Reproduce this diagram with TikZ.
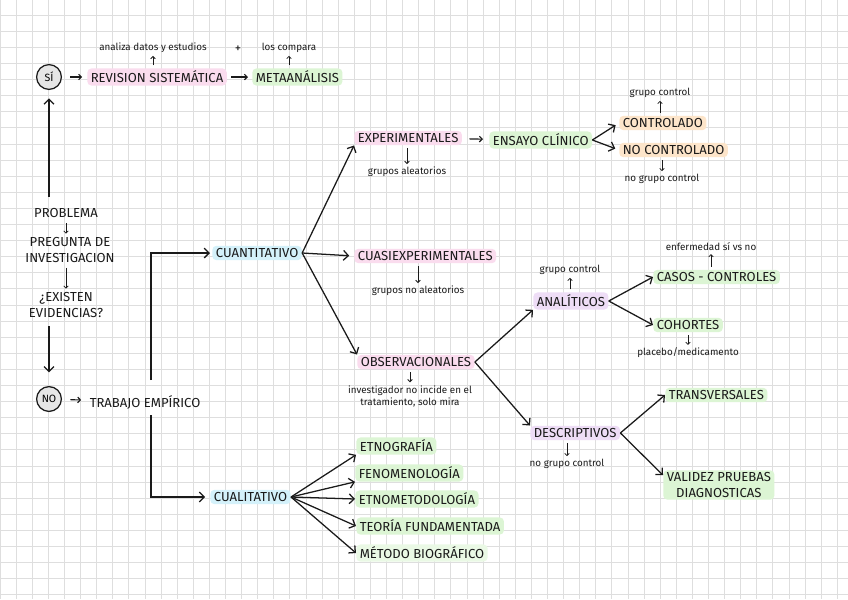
\documentclass[tikz,border=0pt]{standalone}
\usepackage{fontspec}
\setmainfont{Fira Sans}
\usetikzlibrary{arrows.meta,positioning}
\definecolor{ink}{HTML}{1A1A1A}
\definecolor{gridgray}{HTML}{DEDEDE}
\definecolor{hlpink}{HTML}{FADCEE}
\definecolor{hlgreen}{HTML}{DCF5D4}
\definecolor{hlblue}{HTML}{D4F1FA}
\definecolor{hlorange}{HTML}{FDE5CA}
\definecolor{hlpurple}{HTML}{EEDDF6}
\definecolor{disk}{HTML}{E6E6E6}
\tikzset{capslabel/.style={font=\fontsize{9.3}{10.7}\selectfont,text=ink,inner xsep=2.5pt,inner ysep=1.8pt,rounded corners=3pt,align=center},notelabel/.style={font=\fontsize{7}{8.5}\selectfont,text=ink,inner sep=1pt,align=center},answerdisk/.style={circle,draw=ink,fill=disk,line width=.9pt,minimum size=.62cm,inner sep=0pt,font=\fontsize{7.5}{8}\selectfont},bigarrow/.style={draw=ink,line width=.9pt,-{Straight Barb[length=3.5pt,width=7pt]}},shortarrow/.style={draw=ink,line width=.8pt,-{Straight Barb[length=2pt,width=4pt]}},tinyarrow/.style={draw=ink,line width=.55pt,-{Straight Barb[length=1.6pt,width=3.2pt]},shorten <=2pt,shorten >=1pt},gridline/.style={draw=gridgray,line width=.45pt}}

\begin{document}
\begin{tikzpicture}[x=.025cm,y=-.025cm]
\fill[white] (0,0) rectangle (848,599);
\useasboundingbox (0,0) rectangle (848,599);
\foreach \i in {0,...,52} \draw[gridline] (\i*16.1,0) -- (\i*16.1,599);
\foreach \j in {1,...,37} \draw[gridline] (0,\j*16.1-1) -- (848,\j*16.1-1);
% top row
\node[answerdisk] (si) at (49,77) {SÍ};
\node[capslabel,fill=hlpink,anchor=west] (revision) at (87,77) {REVISION SISTEMÁTICA};
\node[capslabel,fill=hlgreen,anchor=west] (meta) at (252,77) {METAANÁLISIS};
\node[notelabel] (analiza) at (153,48) {analiza datos y estudios};
\node[notelabel,font=\fontsize{9}{9}\selectfont] (plus) at (238,49) {+};
\node[notelabel] (compara) at (289,48) {los compara};
\draw[shortarrow,shorten <=.21cm,shorten >=.12cm] (si) -- (revision);
\draw[shortarrow,shorten <=.1cm,shorten >=.1cm] (revision) -- (meta);
\draw[tinyarrow] (analiza |- revision.north) -- (analiza.south);
\draw[tinyarrow] (compara |- meta.north) -- (compara.south);
% left column
\node[capslabel] (problema) at (66,213) {PROBLEMA};
\node[capslabel] (pregunta) at (70,250) {PREGUNTA DE\\INVESTIGACION};
\node[capslabel] (existen) at (66,305) {¿EXISTEN\\EVIDENCIAS?};
\node[answerdisk] (no) at (49,399) {NO};
\node[capslabel,anchor=west] (empirico) at (86,402) {TRABAJO EMPÍRICO};
\draw[tinyarrow] (problema.south) -- (problema.south |- pregunta.north);
\draw[tinyarrow] (problema.south |- pregunta.south) -- (problema.south |- existen.north);
\draw[bigarrow,shorten <=.22cm,shorten >=.21cm] (si |- problema.north) -- (si);
\draw[bigarrow,shorten <=.15cm,shorten >=.34cm] (no |- existen.south) -- (no);
\draw[shortarrow,shorten <=.21cm,shorten >=.12cm] (no) -- (empirico);
\coordinate (forkup) at (151,380);
\coordinate (forkdown) at (151,415);
\node[capslabel,fill=hlblue,anchor=west] (cuanti) at (212,253) {CUANTITATIVO};
\node[capslabel,fill=hlblue,anchor=west] (cuali) at (210,497) {CUALITATIVO};
\draw[bigarrow,shorten >=.05cm] (forkup) |- (cuanti);
\draw[bigarrow,shorten >=.12cm] (forkdown) |- (cuali);
% cuantitativo
\node[capslabel,fill=hlpink,anchor=west] (experim) at (354,138) {EXPERIMENTALES};
\node[capslabel,fill=hlpink,anchor=west] (cuasi) at (354,256) {CUASIEXPERIMENTALES};
\node[capslabel,fill=hlpink,anchor=west] (observ) at (357,362) {OBSERVACIONALES};
\draw[bigarrow] (cuanti.east) -- (experim.south west);
\draw[bigarrow,shorten >=.12cm] (cuanti.east) -- (cuasi.west);
\draw[bigarrow] (cuanti.east) -- (observ.north west);
\node[notelabel] (aleat) at (407,172) {grupos aleatorios};
\node[notelabel] (noaleat) at (418,291) {grupos no aleatorios};
\node[notelabel] (incide) at (410,396) {investigador no incide en el\\tratamiento, solo mira};
\draw[tinyarrow] (aleat |- experim.south) -- (aleat.north);
\draw[tinyarrow] (noaleat |- cuasi.south) -- (noaleat.north);
\draw[tinyarrow] (incide |- observ.south) -- (incide.north);
% experimentales
\node[capslabel,fill=hlgreen,anchor=west] (ensayo) at (489,140) {ENSAYO CLÍNICO};
\node[capslabel,fill=hlorange,anchor=west] (control) at (619,123) {CONTROLADO};
\node[capslabel,fill=hlorange,anchor=west] (nocontrol) at (619,150) {NO CONTROLADO};
\draw[shortarrow,shorten <=.18cm,shorten >=.15cm] (experim) -- (ensayo);
\draw[bigarrow,shorten >=.1cm] (ensayo.east) -- (control.west);
\draw[bigarrow,shorten >=.1cm] (ensayo.east) -- (nocontrol.west);
\node[notelabel] (ctrlnote) at (660,93) {grupo control};
\node[notelabel] (noctrlnote) at (662,179) {no grupo control};
\draw[tinyarrow] (ctrlnote |- control.north) -- (ctrlnote.south);
\draw[tinyarrow] (noctrlnote |- nocontrol.south) -- (noctrlnote.north);
% observacionales
\node[capslabel,fill=hlpurple,anchor=west] (analit) at (533,301) {ANALÍTICOS};
\node[capslabel,fill=hlpurple,anchor=west] (descrip) at (530,433) {DESCRIPTIVOS};
\draw[bigarrow] (observ.east) -- (analit.south west);
\draw[bigarrow] (observ.east) -- (descrip.north west);
\node[notelabel] (analnote) at (570,270) {grupo control};
\node[notelabel] (descnote) at (567,464) {no grupo control};
\draw[tinyarrow] (analnote |- analit.north) -- (analnote.south);
\draw[tinyarrow] (descnote |- descrip.south) -- (descnote.north);
\node[capslabel,fill=hlgreen,anchor=west] (casos) at (653,277) {CASOS - CONTROLES};
\node[capslabel,fill=hlgreen,anchor=west] (cohortes) at (653,325) {COHORTES};
\draw[bigarrow] (analit.east) -- (casos.west);
\draw[bigarrow] (analit.east) -- (cohortes.west);
\node[notelabel] (enfermedad) at (711,247) {enfermedad sí vs no};
\node[notelabel] (placebo) at (688,353) {placebo/medicamento};
\draw[tinyarrow] (enfermedad |- casos.north) -- (enfermedad.south);
\draw[tinyarrow] (placebo |- cohortes.south) -- (placebo.north);
\node[capslabel,fill=hlgreen,anchor=west] (transv) at (665,395) {TRANSVERSALES};
\node[capslabel,fill=hlgreen,anchor=west] (validez) at (663,485) {VALIDEZ PRUEBAS\\DIAGNOSTICAS};
\draw[bigarrow] (descrip.east) -- (transv.west);
\draw[bigarrow] (descrip.east) -- (validez.170);
% cualitativo
\node[capslabel,fill=hlgreen,anchor=west] (etnog) at (356,446) {ETNOGRAFÍA};
\node[capslabel,fill=hlgreen,anchor=west] (fenom) at (355,473) {FENOMENOLOGÍA};
\node[capslabel,fill=hlgreen,anchor=west] (etnomet) at (355,499) {ETNOMETODOLOGÍA};
\node[capslabel,fill=hlgreen,anchor=west] (teoria) at (356,526) {TEORÍA FUNDAMENTADA};
\node[capslabel,fill=hlgreen!60,anchor=west] (metodo) at (356,553) {MÉTODO BIOGRÁFICO};
\draw[bigarrow] (cuali.east) -- (etnog.south west);
\draw[bigarrow] (cuali.east) -- (fenom.south west);
\draw[bigarrow] (cuali.east) -- (etnomet.west);
\draw[bigarrow] (cuali.east) -- (teoria.west);
\draw[bigarrow] (cuali.east) -- (metodo.west);
\end{tikzpicture}
\end{document}
